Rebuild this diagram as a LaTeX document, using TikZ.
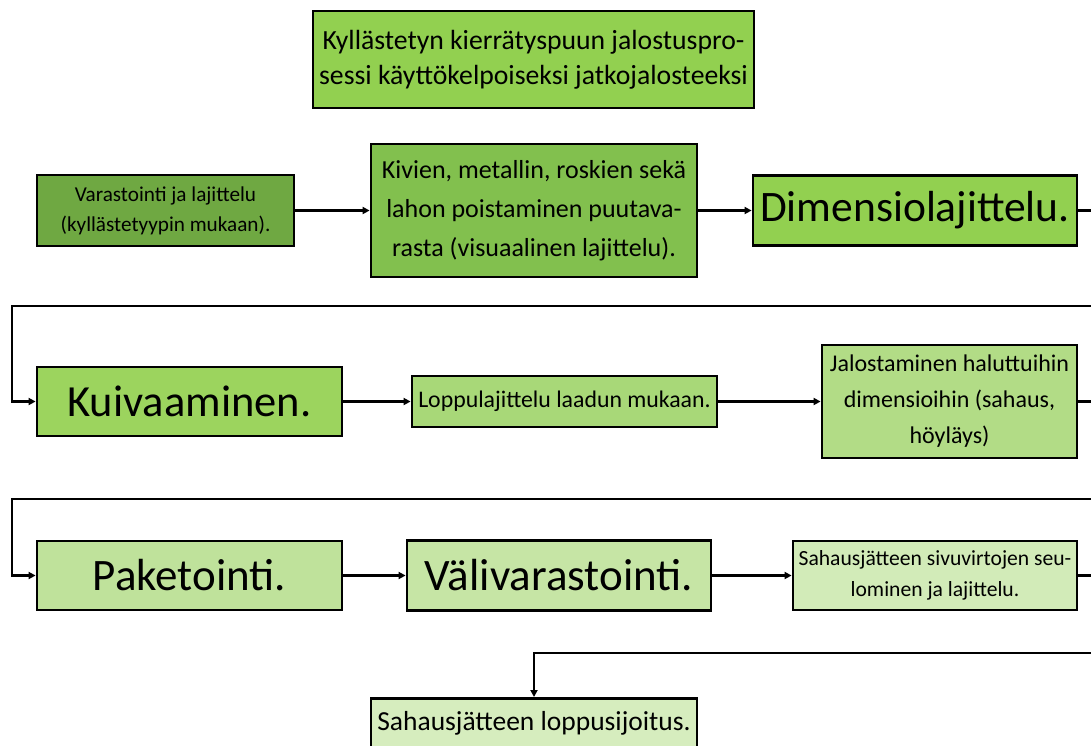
\documentclass[tikz,border=0pt]{standalone}
\usepackage{fontspec}
\setmainfont{Carlito}
\usetikzlibrary{arrows.meta}
\definecolor{cTitle}{HTML}{92D050}
\definecolor{cVar}{HTML}{6FA842}
\definecolor{cKiv}{HTML}{82C04E}
\definecolor{cDim}{HTML}{92D050}
\definecolor{cKui}{HTML}{9CD45E}
\definecolor{cLop}{HTML}{A8D878}
\definecolor{cJal}{HTML}{B2DC86}
\definecolor{cPak}{HTML}{BFE29B}
\definecolor{cVal}{HTML}{C6E5A5}
\definecolor{cSah}{HTML}{D2EBB8}
\definecolor{cLos}{HTML}{D6EDBE}
\newcommand{\fs}[2]{\fontsize{#1}{#2}\selectfont}
\tikzset{
  box/.style={draw=black, line width=2.8pt, align=center, inner sep=0pt, text=black},
  conn/.style={line width=2.2pt, draw=black, -{Triangle[length=7pt,width=7pt]}},
}
\begin{document}
\begin{tikzpicture}[x=1pt,y=-1pt]
\useasboundingbox (0,0) rectangle (1091,745);
\clip (0,0) rectangle (1091,745);
\fill[white] (0,0) rectangle (1091,745);

\node[box, fill=cTitle, minimum width=441pt, minimum height=97pt, font=\fs{27.7}{35}] (title) at (533.5,59.5)
  {Kyllästetyn kierrätyspuun jalostuspro-\\sessi käyttökelpoiseksi jatkojalosteeksi};

\node[box, fill=cVar, minimum width=257pt, minimum height=71pt, font=\fs{21.2}{30}] (var) at (165.5,210.5)
  {Varastointi ja lajittelu\\(kyllästetyypin mukaan).};
\node[box, fill=cKiv, minimum width=326pt, minimum height=133pt, font=\fs{26}{39}] (kiv) at (534,210.5)
  {Kivien, metallin, roskien sekä\\lahon poistaminen puutava-\\rasta (visuaalinen lajittelu).};
\node[box, fill=cDim, minimum width=324pt, minimum height=70pt, font=\fs{43.5}{48}] (dim) at (915,210.5)
  {Dimensiolajittelu.};

\node[box, fill=cKui, minimum width=305pt, minimum height=69pt, font=\fs{44.5}{50}] (kui) at (189.5,401.5)
  {Kuivaaminen.};
\node[box, fill=cLop, minimum width=305pt, minimum height=51pt, font=\fs{23.8}{28}] (lop) at (564.5,401.5)
  {Loppulajittelu laadun mukaan.};
\node[box, fill=cJal, minimum width=255pt, minimum height=113pt, font=\fs{24}{36}] (jal) at (949.5,401.5)
  {Jalostaminen haluttuihin\\dimensioihin (sahaus,\\höyläys)};

\node[box, fill=cPak, minimum width=305pt, minimum height=69pt, font=\fs{45}{50}] (pak) at (189.5,575.5)
  {Paketointi.};
\node[box, fill=cVal, minimum width=304pt, minimum height=70pt, font=\fs{45}{50}] (val) at (559,575.5)
  {Välivarastointi.};
\node[box, fill=cSah, minimum width=284pt, minimum height=69pt, font=\fs{21.6}{31}] (sah) at (935,575.5)
  {Sahausjätteen sivuvirtojen seu-\\lominen ja lajittelu.};

\node[box, fill=cLos, minimum width=326pt, text height=32pt, text depth=39pt, anchor=north, font=\fs{27.5}{30}] (los) at (534,697)
  {Sahausjätteen loppusijoitus.};

\coordinate (r1) at (1110,210.5);
\coordinate (r1b) at (1110,306);
\coordinate (l1) at (12,306);
\coordinate (r2) at (1110,401.5);
\coordinate (r2b) at (1110,499);
\coordinate (l2) at (12,499);
\coordinate (r3) at (1110,575.5);
\coordinate (r3b) at (1110,653);

\draw[conn] (var.east) -- (kiv.west |- var.east);
\draw[conn] (kiv.east |- dim.west) -- (dim.west);
\draw[conn] (dim.east) -- (r1) -- (r1b) -- (l1) |- (kui.west);
\draw[conn] (kui.east) -- (lop.west);
\draw[conn] (lop.east) -- (jal.west);
\draw[conn] (jal.east) -- (r2) -- (r2b) -- (l2) |- (pak.west);
\draw[conn] (pak.east) -- (val.west);
\draw[conn] (val.east) -- (sah.west);
\draw[conn] (sah.east) -- (r3) -- (r3b) -| (los.north);
\end{tikzpicture}
\end{document}
